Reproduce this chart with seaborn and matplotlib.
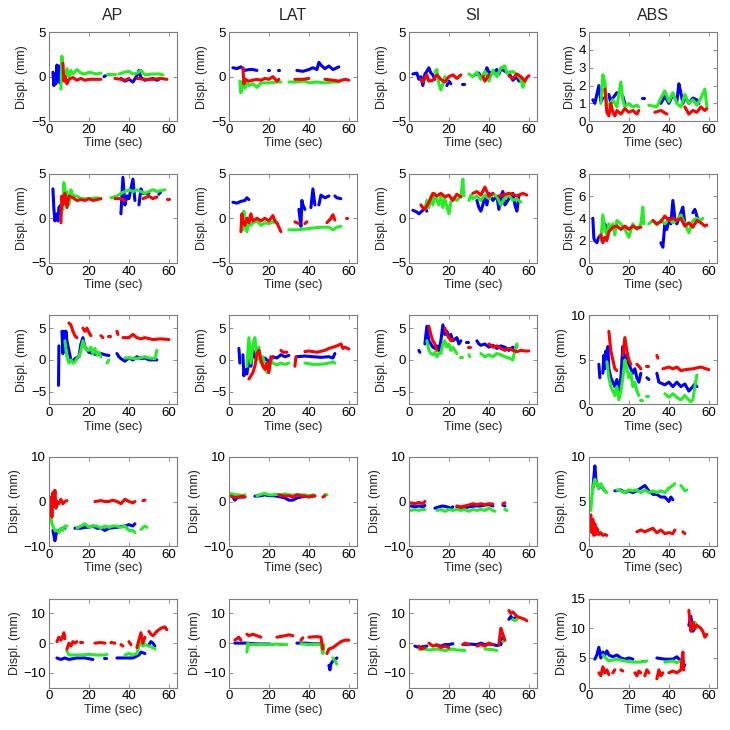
import pandas as pd
import matplotlib
matplotlib.use('Agg')
import matplotlib.pyplot as plt
import seaborn as sns

# column titles, y limits / ticks per row and column
col_titles = ['AP', 'LAT', 'SI', 'ABS']
x_ticks = [0, 20, 40, 60]
y_lims = [
    [(-5, 5), (-5, 5), (-5, 5), (0, 5)],
    [(-5, 5), (-5, 5), (-5, 5), (0, 8)],
    [(-7, 7), (-7, 7), (-7, 7), (0, 10)],
    [(-10, 10), (-10, 10), (-10, 10), (0, 10)],
    [(-15, 15), (-15, 15), (-15, 15), (0, 15)],
]
y_ticks = [
    [[-5, 0, 5]] * 3 + [[0, 1, 2, 3, 4, 5]],
    [[-5, 0, 5]] * 3 + [[0, 2, 4, 6, 8]],
    [[-5, 0, 5]] * 3 + [[0, 5, 10]],
    [[-10, 0, 10]] * 3 + [[0, 5, 10]],
    [[-10, 0, 10]] * 3 + [[0, 5, 10, 15]],
]

# ---- row 1 ----
ap1_b = [[(2, .5), (2.5, -1), (3, .3), (3.5, -.8), (4, 1.3), (4.5, -.5), (5, 1.2), (5.5, -.7), (6, .8), (6.5, 0)],
         [(27.5, 0), (28.3, .1)],
         [(36, -.2), (38, -.5), (40, -.3), (42, -.6), (44, .1), (45, .7), (46, -.1), (48, -.4), (50, -.3), (52, -.2), (54, -.4), (55, -.3)]]
ap1_g = [[(6, -1.4), (6.5, 2.3), (7, 0), (8, -.5), (9, .9), (10, 0), (11, .7), (12, .3), (14, .8), (16, .4), (18, .3), (20, .5), (24, .3), (26, .4)],
         [(29, .3), (33, .3)],
         [(35, .3), (38, .5), (40, .6), (42, .3), (44, .4), (46, .7), (48, .2), (52, .3), (55, .3), (57, .2)]]
ap1_r = [[(7, 1.5), (7.5, -.5), (8, 0), (9, -.8), (10, -.3), (12, -.1), (14, -.4), (16, -.2), (18, -.4), (20, -.3), (24, -.3), (26, -.3)],
         [(33, -.2), (36, -.3), (38, -.4), (40, -.2)],
         [(44, -.2), (48, -.3), (52, -.3), (56, -.2), (59, -.3)]]

lat1_b = [[(2, 1), (4, .9), (6, 1.1), (8, .7), (10, .8), (12, .8), (14, .7)],
          [(19.5, .7), (20.3, .7)], [(24.5, .8), (25.3, .8)],
          [(34, .7), (37, .6), (40, .8), (42, 1), (44, .8), (45, 1.6), (46, 1.3), (48, .9), (50, 1.2), (52, .8), (54, 1), (55, 1.1)]]
lat1_g = [[(5.5, -.5), (6, -1.8), (7, -.5), (8, -1.3), (9, -.6), (10, -1), (12, -.8), (14, -1.2), (16, -.7), (20, -.7), (24, -.6), (26, -.6)],
          [(30, -.6), (34, -.6), (38, -.5), (40, -.7), (44, -.6), (48, -.7), (52, -.6), (55, -.6)]]
lat1_r = [[(7, 1), (7.5, -.8), (8, -.3), (10, -.5), (12, -.4), (14, -.3), (16, -.4), (18, -.2), (20, -.3), (22, 0), (24, -.5), (25, -.3)],
          [(33, -.3), (37, -.3), (40, -.2)],
          [(48, -.3), (52, -.4), (55, -.5), (58, -.3), (60, -.4)]]

si1_b = [[(2, .3), (4, .4), (5, -.3), (6, 0), (7, -1), (8, .3), (9, .6), (10, 1), (11, .4), (12, .2), (13, -.3)],
         [(19, -1), (20, -.5), (21, -.8)], [(26.6, -.8), (27.4, -.8)],
         [(33, .2), (35, .4), (36, -.1), (38, .3), (39, 1), (40, .5), (42, .4), (44, .8), (45, .3), (46, .9), (48, .6), (50, .4), (52, -.4), (54, 0), (55, -.5)]]
si1_g = [[(13, .5), (14, .8), (15, -.8), (16, -1.5), (17, -.8), (18, 0), (19, -.5)],
         [(30, .3), (32, 0), (34, .5), (36, -.3), (38, .6), (40, -.5), (42, .7), (44, 0), (46, 1), (48, 1.2), (49, .4), (52, .6), (54, .2), (56, -.3), (57, -1.2), (58, -.6)]]
si1_r = [[(6, -.3), (7, -.6), (8, -.2), (9, .2), (10, -.5), (12, -.4), (14, .2), (16, -.3), (18, -.6), (20, 0), (22, .2), (24, -.2), (26, .2)],
         [(37, 0), (38, -.5), (40, .2)],
         [(50, .1), (52, -.2), (54, .3), (56, 0), (58, -.5), (59, -.1), (60, .1)]]

abs1_b = [[(2, 1.2), (3, 1), (4, 1.5), (5, 2), (6, 1.1), (7, 1.3)],
          [(10, 1.5), (11, 1), (12, 1.3), (14, 1.6)], [(17, 1.4), (18, 1)], [(26.6, 1.3), (27.4, 1.3)],
          [(36, 1), (38, 1.4), (40, 1), (42, 1.5), (44, 1.1), (45, 2.1), (46, 1.6), (47, 1), (48, 1.4), (50, 1), (52, 1.3), (54, 1.2), (55, 1)]]
abs1_g = [[(6, 1), (7, 2.6), (8, 2.2), (9, 1), (10, .9), (12, 1.2), (14, .8), (15, 1.5), (16, 2.2), (17, 1.2), (18, .8), (20, 1), (22, .8), (24, .9), (25, .8)],
          [(30, .9), (34, .8), (36, 1.3), (38, 1.7), (40, 1.1), (42, 1.6), (44, 1), (46, .8), (48, 1.5), (50, 1), (52, 1.2), (54, .9), (56, 1.3), (58, 1.8), (59, .8)]]
abs1_r = [[(8, 1.8), (9, .5), (10, .3), (11, 1), (12, .5), (13, .3), (14, .6), (16, .4), (18, .7), (20, .5), (22, .6), (24, .4), (25, .6)],
          [(33, .5), (36, .6), (39, .4)],
          [(48, .8), (50, .4), (52, .6), (54, .5), (56, .8), (58, .6), (59, .7)]]

# ---- row 2 ----
ap2_b = [[(2, 3.3), (2.5, 1), (3, -.3), (4, .5), (4.5, -.3), (5, 1.2), (6, 1.5)],
         [(36, .5), (37, 4.6), (38, 1.5), (39, 2.5), (40, 2.2), (42, 4.4), (43, 2)],
         [(45, 1.5), (46, 3.3), (47, 2.8), (50, 2.8)], [(55, 2.7), (56, 3)]]
ap2_g = [[(7, 1), (7.5, 4), (8, 2), (9, 3), (10, 1.5), (11, 3.2), (12, 2.5), (14, 2.5), (16, 2.2), (20, 2.2), (24, 2.3), (26, 2.2)],
         [(31, 2.3), (34, 2.5), (36, 2.8), (38, 3), (40, 3.2), (42, 3), (44, 3.2), (46, 3), (48, 2.8), (50, 3), (52, 3.2), (54, 3), (56, 3.1), (58, 3.2)]]
ap2_r = [[(6, -.5), (6.5, 2.5), (7, 1.5), (8, 2.8), (9, 1.2), (10, 2.5), (12, 2.3), (14, 2), (16, 2.1), (18, 2), (20, 2.2), (22, 2), (24, 2.1), (26, 2.2)],
         [(33, 2.2), (36, 2.2), (38, 2)], [(47, 2.2), (50, 2.5), (52, 2.2), (54, 2.4)], [(59, 2.2), (60, 2.2)]]

lat2_b = [[(2, 1.8), (4, 1.7), (6, 1.9), (8, 2), (9, 2.3), (10, 2.1)],
          [(35, 1), (36, -.9), (36.5, 2), (37, 1.5), (38, 1)], [(41, 1.2), (42, 3.3), (43, 1.5)],
          [(45, 1.5), (46, 2.6), (48, 2.3), (50, 2.5)], [(53, 2.5), (54, 2.3), (56, 2.2)]]
lat2_g = [[(7, -1.3), (7.5, .8), (8, -.5), (9, -1.5), (10, -.3), (11, -.8), (12, -.5), (14, -.3), (16, -.8), (18, -.5), (20, -.6), (22, -.4), (24, -.6)],
          [(30, -1.3), (34, -1.3), (38, -1.2), (42, -1.1), (46, -1), (50, -1), (52, -1.3), (54, -1), (56, -.9)]]
lat2_r = [[(6, -1.5), (6.5, .5), (7, -.3), (8, -.8), (9, 0), (10, -.5), (11, .5), (12, -.3), (14, 0), (16, -.3), (18, 0), (20, -.3), (22, .3), (23, -.3), (24, -.5), (25, -1), (26, -1.5)],
          [(33, -.4), (35, -.6)], [(38, -.6), (39, -.4)], [(49, -.5), (51, 0), (52, .4), (53, -.2)], [(58.5, 0), (59.3, 0)]]

si2_b = [[(2, .9), (3, .8), (4, .7), (5, .5), (6, .7), (7, .9), (8, 1.2), (9, .8)],
         [(34, 2), (35, 1.2), (36, .8), (37, 1.5), (38, 2.5), (39, 1.5), (40, 2.8), (42, 2), (44, 2.5), (45, 1), (46, 2.5), (47, 3), (48, 1.5), (50, 2.2), (52, 2.8), (53, 1.5), (54, .8), (55, 2.5)]]
si2_g = [[(8, 1), (9, 2), (10, 1.2), (11, 2.5), (12, 1.5), (13, 2.8), (14, 2), (15, 1.5), (16, 2.5), (17, 1.2), (18, 2.2), (20, .5), (21, 1.8), (22, 2.3), (24, 2), (26, 2.5), (27, 4.4), (27.5, 2.5)],
         [(30, 2), (31, 2.6), (32, 2.2), (34, 2.5), (36, 2), (38, 2.6), (40, 2.2), (42, 2.8), (44, 2.4), (46, 1.5), (48, 2.3), (50, 2.6), (52, 2), (54, 2.2), (56, 1.8)]]
si2_r = [[(6, 1.5), (7, 1.2), (8, 1), (10, 1.8), (12, 2.8), (14, 2.5), (16, 2.8), (18, 2.4), (20, 2.6), (22, 2), (24, 2.7), (26, 2.4)],
         [(32, 2.8), (34, 3), (36, 2.6), (38, 3.5), (39, 3), (40, 2.5), (42, 2.8)],
         [(45, 2.5), (47, 2.6), (50, 2.8), (52, 2.7), (54, 2.5), (57, 2.8), (59, 2.6)]]

abs2_b = [[(2, 4), (2.5, 2.2), (3, 2), (4, 1.8), (5, 2.3), (6, 2.5)], [(8, 3.5), (9, 3)],
          [(36, 1.8), (37, 1.4), (38, 3.5), (39, 3), (40, 4), (41, 3.5), (42, 5.6), (43, 4), (44, 3.5), (46, 4.5), (47, 5), (48, 3.5)],
          [(52, 4.5), (53, 4.8), (54, 4.2), (55, 3.8)]]
abs2_g = [[(6, 2), (7, 4.3), (8, 3), (9, 2.5), (10, 3.5), (11, 3), (12, 3.5), (13, 2.5), (14, 3.8), (16, 3.5), (18, 3), (20, 2.3), (22, 3.5), (24, 3), (26, 3.5), (27, 5), (27.5, 3.5)],
          [(30, 3.5), (32, 3.8), (34, 3.4), (36, 3.8), (38, 3.5), (40, 3.9), (42, 3.6), (44, 3.8), (46, 4.3), (48, 3.5), (50, 2.7), (52, 3.8), (54, 4), (56, 3.8), (57, 4)]]
abs2_r = [[(6, 2.5), (7, 1.8), (8, 2.3), (9, 2), (10, 2.8), (12, 3.2), (14, 3.3), (16, 3), (18, 3.3), (20, 3), (22, 3.3), (24, 3.1), (26, 3.2)],
          [(32, 3.8), (34, 3.5), (36, 3.7), (38, 4.2), (40, 3.8), (42, 4), (44, 3.8), (46, 4), (48, 3.3), (50, 3.6), (52, 3.2), (54, 3.8), (56, 3.6), (58, 3.3), (59, 3.4)]]

# ---- row 3 ----
ap3_b = [[(4.8, -4), (5, 2.2)],
         [(6.5, 4.5), (7, 1), (7.5, 4.5), (8, 2), (8.5, 4.5), (9, 3), (10, 1.5), (11, 0), (12, -.3), (13, .2), (15, .5), (16, 2.5), (17, 3.5), (18, 2), (20, 1.2), (22, 1), (24, .8), (26, 1), (28, .8), (30, .7)],
         [(34, 1), (35, .5), (36, .2), (38, -.2), (40, .3), (42, 0), (44, .5), (46, .2), (48, .3), (50, 0), (52, 0), (54, 0)]]
ap3_g = [[(8, 3), (9, .5), (10, -.5), (11, 0), (12, -.5), (13, -.3), (14, .2), (15, .5), (16, 1.5), (17, 3), (18, 2), (19, 1.5), (20, 1.5), (21, 2), (22, 1), (23, 1.8), (24, .8), (25, 1.2), (26, .5)],
         [(29, -.5), (30, 0)],
         [(38, .3), (40, .3), (44, .2), (48, .5), (50, .3), (53, .2), (54, 1.5)]]
ap3_r = [[(10, 5.8), (11, 5.5), (12, 4.5), (13, 3.8), (14, 3.5)],
         [(17, 5), (18, 4.5), (19, 5), (20, 4.3), (21, 3.8)], [(26, 3.8), (27, 3.5)], [(29.6, 3.8), (30.4, 3.8)],
         [(34, 4.5), (34.5, 4)],
         [(37, 3.5), (40, 3.5), (42, 4), (44, 3.5), (46, 3.3), (48, 3.5), (52, 3.2), (56, 3.3), (60, 3.2)]]

lat3_b = [[(5, 1.8), (5.5, -.5)],
          [(7, .8), (7.5, -2.5), (8, -1.5), (9, -2.2), (10, 0), (11, -1), (12, 1.5), (13, .5), (14, 0), (15, 1), (16, .2), (17, -.5), (18, .3), (20, -.3), (22, .5), (24, .3), (26, .8), (28, .5), (30, .7)],
          [(34, .5), (38, .6), (42, .5), (46, .4), (50, .5), (52, .3), (53, 1)]]
lat3_g = [[(9, -1), (10, 3.5), (11, -.5), (12, 2.5), (13, 3.5), (14, 0), (15, 2), (16, -.5), (17, .5), (18, -1), (19, -2), (20, -1.5), (21, 0), (22, -.5), (24, -.8), (26, -.5), (28, -.7), (30, -.5)],
          [(38, -.5), (42, -.7), (46, -.7), (50, -.5), (52, -.3), (53, -.5)]]
lat3_r = [[(10, -3), (11, -2.5), (12, -2), (13, -1), (14, 1), (15, 1.5), (16, 0), (17, -1), (18, -1.5), (19, -.5), (20, -2), (21, .5), (22, .3)],
          [(26, 1.5), (27, 1.2), (29, 1.2)], [(33, -1), (33.5, .5)],
          [(38, 1.3), (40, 1.4), (44, 1.2), (48, 1.5), (50, 1.8), (52, 2), (54, 2.2), (56, 2.5), (57, 1.8), (58, 2), (60, 1.7)]]

si3_b = [[(5, 1.5), (5.5, 1.2)],
         [(8, 2.5), (9, 5.3), (10, 3), (11, 2.5), (12, 2), (13, 1.8), (14, 2.2), (15, 1.5), (16, 3), (17, 5.5), (18, 4), (19, 4.5), (20, 3.5), (21, 4), (22, 3), (24, 3.5), (25, 2.5), (26, 3)],
         [(28.6, 2.8), (29.4, 2.8)],
         [(34, 3), (35, 2.5), (36, 2.3), (38, 2.5), (40, 2), (42, 2.3), (44, 1.8), (46, 2.2), (48, 2), (50, 1.5), (52, 2), (53, 1.5), (54, 2.3)]]
si3_g = [[(9, 3), (10, 1.5), (11, 1), (12, .8), (13, 1.2), (14, .5), (15, 1), (16, 1), (17, 2.5), (18, 3), (19, 2), (20, 2.5), (21, 1.5), (22, 2), (23, 1.5), (24, 1)],
         [(25.6, .5), (26.4, .5)], [(30, .8), (30.5, .5)],
         [(36, 1), (38, .5), (40, .8), (42, .5), (44, 1), (46, .8), (48, .5), (50, .3), (52, 0), (53, 1.5), (54, 2.5)]]
si3_r = [[(10, 5.3), (11, 4), (12, 3), (13, 2.5), (14, 1.5)],
         [(18, 5), (19, 4), (20, 3.5), (21, 3), (22, 3.3)], [(29.6, 2), (30.4, 2)],
         [(40, 2.5), (42, 2), (44, 2.2), (46, 1.8), (48, 1.5), (50, 1.8), (52, 1.5), (54, 1.3), (56, 1.5), (58, 1.4), (60, 1.4)]]

abs3_b = [[(5, 4.5), (5.5, 3)],
          [(7, 3.5), (7.5, 5.5), (8, 4), (8.5, 6), (9, 4.5), (9.5, 6.5), (10, 4), (11, 3), (12, 2.5), (13, 2), (14, 2.8), (15, 1.5), (16, 3), (17, 6.5), (18, 5), (19, 5.5), (20, 4.5), (21, 4), (22, 3.5), (23, 4), (24, 3), (25, 2.5), (26, 3.5)],
          [(29, 3), (30, 2.8)],
          [(34, 3.5), (35, 2.5), (38, 2.2), (40, 2.5), (42, 2), (44, 2.5), (46, 2), (48, 2.3), (50, 1.5), (52, 2), (53, 2.3), (54, 2)]]
abs3_g = [[(9, 4.8), (10, 3), (11, 2), (12, 1.5), (13, 1), (14, 2), (15, .5), (16, 1.5), (17, 3), (18, 5), (19, 4), (20, 3), (21, 3.5), (22, 2), (23, 2.5), (24, 1.5), (25, 1)],
          [(25.6, .5), (26.4, .5)], [(28.6, 1), (29.4, 1)],
          [(38, 1.2), (40, .8), (42, 1.2), (44, .8), (46, .5), (48, 1), (50, .5), (51, .3), (52, .5), (53, 2), (54, 3.3)]]
abs3_r = [[(10, 8.2), (11, 6), (12, 5), (13, 4), (14, 3.8)],
          [(17, 5.5), (18, 7.5), (19, 6), (20, 5), (21, 4.5)], [(24, 4.5), (25, 4.3), (26, 4)], [(28.6, 4.3), (29.4, 4.3)],
          [(34, 5.5), (34.5, 5.2)],
          [(37, 4), (40, 4.2), (42, 4), (44, 4.2), (46, 3.8), (48, 3.9), (52, 4), (56, 4.2), (60, 3.9)]]

# ---- row 4 ----
ap4_b = [[(2, -6.5), (3, -8.8), (3.5, -7.5), (4, -7), (5, -6.5), (7, -6), (8, -6)],
         [(13, -6), (16, -6), (18, -5.8), (20, -5.8), (22, -5.5), (24, -6), (26, -6), (28, -6.5), (30, -6), (34, -5.8), (38, -5.5), (40, -5.2), (42, -5.5), (43, -5)]]
ap4_g = [[(1, -3.5), (1.5, -5), (2, -5.5), (3, -6.5), (4, -6.5), (5, -7), (6, -6), (7, -6.5), (8, -5.5), (9, -5.5)],
         [(14, -6), (16, -5.5), (18, -5), (20, -5.8), (22, -5.5), (24, -5.5), (26, -6), (28, -5.5), (30, -5.8), (32, -5.5), (34, -5.5), (36, -5.8), (38, -5.5), (40, -6.5), (42, -6.5), (43, -7)],
         [(46, -6.3), (48, -5.5), (49, -5.8)]]
ap4_r = [[(1, 1), (1.5, -3.5), (2, 2), (2.5, -1), (3, 2.5), (3.5, -1.5), (4, 0), (5, -.5), (6, .5), (7, -.5), (8, 0), (9, .2)],
         [(23, 0), (26, .2), (28, 0), (30, 0), (32, .3), (34, 0), (36, -.5), (38, .5), (40, 0), (42, -.3), (43, 0)],
         [(47, .2), (48, .3)]]

lat4_b = [[(2, 1), (3, .3), (4, .8), (5, 1), (7, 1), (8, 1.1)],
          [(13, 1.2), (16, 1.3), (18, 1.5), (20, 1.3), (22, 1.3), (24, 1.2), (26, 1), (28, .8), (30, .3), (32, .3), (34, .8), (36, 1), (38, 1.2), (40, 1.3), (42, 1.2)]]
lat4_g = [[(1, 1.8), (3, 1.5), (5, 1.5), (7, 1.3), (8, 1.5)],
          [(14, 1.3), (16, 1.6), (18, 1.8), (20, 1.5), (22, 1.5), (24, 1.6), (26, 1.5), (28, 1.7), (30, 1.5), (32, 1.4), (34, 1.6), (36, 1.5), (38, 1.5), (40, 1.3), (42, 1.5), (43, 1.4)],
          [(48, 1.6), (49, 1.5)]]
lat4_r = [[(1, 1.2), (3, .9), (5, 1), (7, 1.2), (8, 1)],
          [(25, 1.5), (28, 1.2), (30, 1.3), (32, 1), (34, 1.5), (36, 1.3), (38, 1.2), (40, 1), (42, 1.3), (43, 1.2)],
          [(47, 1), (48, 1.3)]]

si4_b = [[(1, -1), (3, -1.2), (5, -1), (7, -1.2), (8, -.9)],
         [(13, -1.5), (15, -1.2), (17, -1), (19, -1.2), (21, -1.5), (22, -1.2)],
         [(24, -1.2), (27, -1.5), (30, -1.2), (33, -1), (36, -1), (38, -.8), (40, -.7), (42, -1)],
         [(47, -.8), (48, -1)]]
si4_g = [[(1, -2), (3, -1.8), (5, -2), (7, -1.8), (8, -1.8)],
         [(14, -2), (16, -1.8), (18, -2.2), (20, -1.8), (22, -2), (24, -1.8), (26, -2), (28, -1.8), (30, -2.2), (32, -1.8), (34, -2), (36, -1.8), (38, -2), (40, -1.5), (42, -2), (43, -2.2)],
         [(48, -1.8), (49, -2)]]
si4_r = [[(1, -.3), (3, -.5), (5, -.2), (7, -.5), (8, 0)],
         [(24, -1), (26, -1.2), (28, -1), (30, -.8), (32, -.5), (34, -.7), (36, -.5), (38, -.7), (40, -.5), (42, -.6)],
         [(47, -.5), (48, -.3)]]

abs4_b = [[(2, 6.5), (3, 9), (3.5, 7.5), (4, 7), (5, 6.5), (6, 6.8), (7, 6.5), (8, 6.2)],
          [(13, 6.2), (16, 6.3), (18, 6), (20, 6.2), (22, 6), (24, 6.2), (26, 6.5), (28, 6.8), (30, 6.2), (32, 5.8), (34, 5.8), (36, 5.5), (38, 5.5), (40, 5), (41, 5.5), (42, 5.2)]]
abs4_g = [[(1, 4), (1.5, 5.5), (2, 6.5), (2.5, 7), (3, 7.5), (4, 7), (5, 6.5), (6, 7), (7, 6.5), (8, 6.2), (9, 6)],
          [(14, 6.3), (16, 6.2), (18, 6), (20, 6.3), (22, 6.2), (24, 6.3), (26, 6), (28, 6.3), (30, 6), (32, 6.2), (34, 6), (36, 6.2), (38, 6), (40, 6.5), (42, 6.8), (43, 7)],
          [(46, 6.8), (48, 6.2), (49, 6.3)]]
abs4_r = [[(1, 3.5), (1.5, 1.5), (2, 3), (2.5, 1.2), (3, 2.5), (3.5, 1.3), (4, 2), (5, 1.3), (6, 1.5), (7, 1.2), (8, 1.3), (9, 1.2)],
          [(24, 1.6), (26, 1.8), (28, 1.6), (30, 1.8), (32, 2), (34, 1.5), (36, 1.8), (38, 1.4), (40, 1.5), (42, 1.4), (43, 1.8)],
          [(47, 1.6), (48, 1.4)]]

# ---- row 5 ----
ap5_b = [[(4, -5), (6, -5.5), (8, -5), (10, -5.5), (14, -5), (18, -5), (22, -5.5)],
         [(27.6, -5), (28.4, -5)],
         [(34, -5), (38, -5), (42, -5), (45, -4), (46, -3), (48, -3.5)],
         [(50, -.5), (51, .5), (52, 0), (53, -1)]]
ap5_g = [[(9, -2.5), (10, -4), (12, -4), (16, -4), (20, -3.8), (24, -4), (28, -4), (29, -3.8)],
         [(38, -4), (40, -3.5), (42, -4), (44, -3.5), (45, -1), (46, .5), (47, -1), (48, -.5), (50, -1), (52, -1.5), (53, -2)]]
ap5_r = [[(4, .5), (5, 2), (6, 1), (7, 2.5), (7.5, 3.5), (8, 1.5)],
         [(9, -2), (10, 0), (11, -1), (12, .5), (13, 0), (14, .5)], [(15.6, .3), (16.4, .3)],
         [(23, 0), (26, .2), (28, 0)], [(31, .2), (33, 0)], [(36, -.5), (37, -1)], [(40, .5), (41, -.5)],
         [(44, -1.5), (45, 1), (46, 3.5), (47, 0), (48, 2)],
         [(50, 4), (51, 3), (52, 2.5), (54, 4), (56, 5), (58, 5.5), (59, 4.5)]]

lat5_b = [[(3, 0), (6, 0), (9, 0), (12, -.2), (16, -.3), (20, -.3), (22, -.5)],
          [(25.6, -.3), (26.4, -.3)],
          [(34, 0), (38, 0), (42, -.2), (46, -.2)],
          [(50, -7.5), (50.5, -9), (51, -7), (52, -6), (53, -5.5), (54, -5)]]
lat5_g = [[(9, -3), (9.5, 0), (10, -.5), (12, -.5), (16, -.5), (20, -.5), (24, -.3), (28, -.5), (29, -.5)],
          [(36, -.2), (40, -.5), (44, -.3), (46, -.5), (47, -3.5), (47.5, -.5)],
          [(52, -5), (53, -6), (54, -7)]]
lat5_r = [[(3, 1), (4, 1.5), (5, 2), (6, 1)],
          [(9, 3), (10, 2.5), (12, 3), (14, 2.5), (16, 2)],
          [(24, 2), (28, 2.5), (30, 2.8), (32, 2.5)], [(36, 1), (37, 1.8)],
          [(40, 2), (44, 2.2), (46, 2), (47, -2)],
          [(49, -3.5), (50, -2), (52, -1.5), (54, -.5), (56, .5), (58, 1), (60, 1)]]

si5_b = [[(3, -1), (5, -1.5), (7, -1.2), (9, -1)],
         [(14, -.8), (16, -1), (18, -.5), (20, -.5), (22, -.2)],
         [(27, -.5), (30, -.3), (34, -.5), (36, 0), (38, -.5), (40, -.3), (42, -.5), (44, -.8), (46, -.5), (47, 2), (47.5, 1)],
         [(50, 8), (51, 9), (52, 8), (53, 8.5)]]
si5_g = [[(5, -2), (8, -2), (10, -2.3), (14, -2), (18, -2.5), (22, -2), (24, -2.3), (28, -2.5)],
         [(38, -2), (42, -2.2), (44, -2.5)], [(47, .5), (48, 1)],
         [(52, 8), (53, 7.5), (54, 8)]]
si5_r = [[(5, -1), (6, -2), (8, -1.5)],
         [(10, 0), (12, -1), (14, -.5), (16, -1.5), (18, -1), (20, -1.5)],
         [(27, -.5), (28, 0), (30, -.5)],
         [(34, -1), (36, -.5), (38, -1), (40, 0), (42, -.5)],
         [(45, -.5), (46, 5), (47, 3), (48, 1)],
         [(50, 11), (51, 10), (52, 10.5), (54, 9), (56, 8.5), (58, 8), (59, 7.5)]]

abs5_b = [[(3, 4.8), (4, 5.5), (5, 6.8), (6, 5), (7, 6), (8, 5.5), (9, 6.2), (10, 5.5), (12, 5.2), (14, 5.5), (16, 5), (18, 4.8), (20, 5), (22, 4.8)],
          [(26.6, 4.5), (27.4, 4.5)],
          [(34, 5), (38, 4.8), (42, 4.8), (44, 5.2), (46, 4.5), (47, 3.5), (48, 3.8)],
          [(50, 10.5), (51, 12), (52, 9.5), (53, 10)]]
abs5_g = [[(7, 5.5), (10, 4.5), (14, 4.8), (18, 4.5), (22, 4.3), (26, 4.3), (29, 4.5)],
          [(38, 4.3), (42, 4.5), (44, 4.2), (46, 4.5)],
          [(52, 10), (53, 11), (54, 10.5)]]
abs5_r = [[(5, 2.5), (6, 2), (7, 3.5), (8, 2.5), (9, 3), (10, 2.2)],
          [(12, 2.5), (13, 3)], [(16, 3), (17, 2.8)],
          [(23, 2.5), (24, 2), (25, 2.8), (26, 2.5)], [(28, 2), (29, 3), (30, 2.5)],
          [(34, 1.5), (35, 3), (36, 2), (37, 2.5)],
          [(40, 2.5), (42, 2.8), (44, 2.5), (46, 3), (47, 6), (47.5, 3)],
          [(50, 13), (51, 9.5), (52, 11), (53, 10), (54, 10.5), (56, 10), (57, 9.5), (58, 8.5), (59, 9)]]

panel_traces = {
    (0, 0): (ap1_b, ap1_g, ap1_r), (0, 1): (lat1_b, lat1_g, lat1_r), (0, 2): (si1_b, si1_g, si1_r), (0, 3): (abs1_b, abs1_g, abs1_r),
    (1, 0): (ap2_b, ap2_g, ap2_r), (1, 1): (lat2_b, lat2_g, lat2_r), (1, 2): (si2_b, si2_g, si2_r), (1, 3): (abs2_b, abs2_g, abs2_r),
    (2, 0): (ap3_b, ap3_g, ap3_r), (2, 1): (lat3_b, lat3_g, lat3_r), (2, 2): (si3_b, si3_g, si3_r), (2, 3): (abs3_b, abs3_g, abs3_r),
    (3, 0): (ap4_b, ap4_g, ap4_r), (3, 1): (lat4_b, lat4_g, lat4_r), (3, 2): (si4_b, si4_g, si4_r), (3, 3): (abs4_b, abs4_g, abs4_r),
    (4, 0): (ap5_b, ap5_g, ap5_r), (4, 1): (lat5_b, lat5_g, lat5_r), (4, 2): (si5_b, si5_g, si5_r), (4, 3): (abs5_b, abs5_g, abs5_r),
}
trace_names = ['blue', 'green', 'red']
trace_colors = {'blue': '#0000ff', 'green': '#22ee22', 'red': '#ff0000'}

# long table
records = []
for (r, c), traces in panel_traces.items():
    for name, segs in zip(trace_names, traces):
        for k, seg in enumerate(segs):
            for t, y in seg:
                records.append({'row': r, 'col': c, 'trace': name, 'seg': k, 't': t, 'y': y})
df = pd.DataFrame(records)

sns.set_style('white')
plt.rcParams['font.family'] = ['Liberation Sans', 'DejaVu Sans']
plt.rcParams.update({
    'axes.edgecolor': '#7f7f7f', 'axes.linewidth': 0.8,
    'xtick.direction': 'in', 'ytick.direction': 'in',
    'xtick.top': True, 'ytick.right': True,
    'xtick.bottom': True, 'ytick.left': True,
    'xtick.major.size': 3, 'ytick.major.size': 3,
    'xtick.major.width': 0.6, 'ytick.major.width': 0.6,
    'xtick.color': '#7f7f7f', 'ytick.color': '#7f7f7f',
    'xtick.labelcolor': 'black', 'ytick.labelcolor': 'black',
    'xtick.labelsize': 9.5, 'ytick.labelsize': 9.5,
})

fig, axes = plt.subplots(5, 4, figsize=(7.3, 7.3), dpi=100)
fig.subplots_adjust(left=0.067, right=0.982, top=0.956, bottom=0.058, wspace=0.406, hspace=0.59)

for r in range(5):
    for c in range(4):
        ax = axes[r, c]
        sub = df[(df['row'] == r) & (df['col'] == c)]
        for name in trace_names:
            part = sub[sub['trace'] == name]
            sns.lineplot(data=part, x='t', y='y', units='seg', estimator=None,
                         color=trace_colors[name], linewidth=2.2, ax=ax, legend=False)
        ax.set_xlim(0, 64)
        ax.set_ylim(*y_lims[r][c])
        ax.set_xticks(x_ticks)
        ax.set_yticks(y_ticks[r][c])
        ax.set_xlabel('Time (sec)', fontsize=9, labelpad=1)
        ax.set_ylabel('Displ. (mm)', fontsize=9, labelpad=2)
        ax.tick_params(pad=2)
        if r == 0:
            ax.set_title(col_titles[c], fontsize=11.5, pad=9)

fig.savefig('out.png', dpi=100)
